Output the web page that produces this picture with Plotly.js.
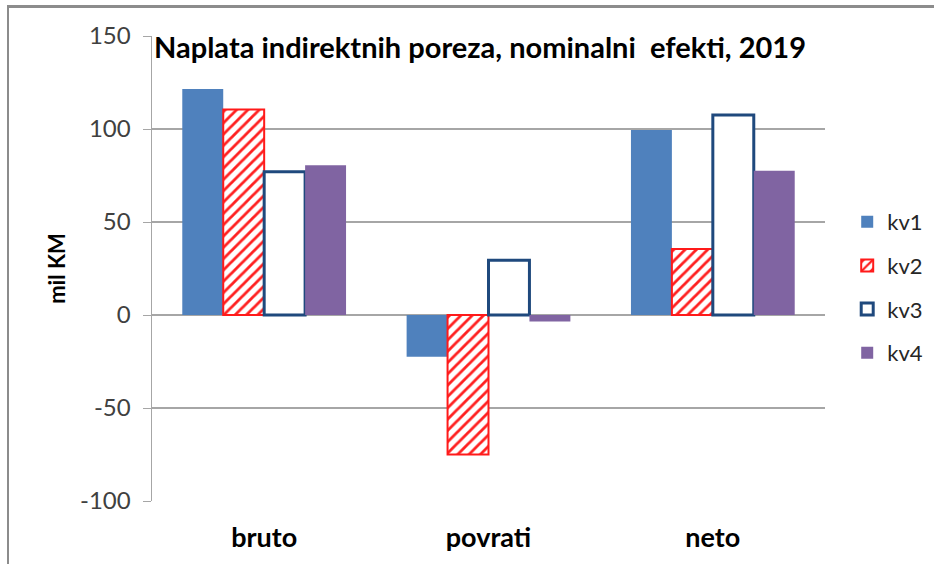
<!DOCTYPE html>
<html>
<head>
<meta charset="utf-8">
<script src="https://cdn.plot.ly/plotly-3.0.1.min.js"></script>
<style>
html,body{margin:0;padding:0;background:#fff;}
#chart{width:934px;height:564px;position:relative;}
#frame{position:absolute;left:7px;top:5px;width:940px;height:600px;border-top:3px solid #8c8c8c;border-left:2px solid #8c8c8c;pointer-events:none;}
</style>
</head>
<body>
<div id="chart"></div>
<div id="frame"></div>
<script>
const categories = ['bruto', 'povrati', 'neto'];
const seriesNames = ['kv1', 'kv2', 'kv3', 'kv4'];
const kv1 = [121.5, -22.5, 99.5];
const kv2 = [110.5, -75.0, 35.5];
const kv3 = [77.0, 29.5, 107.5];
const kv4 = [80.5, -3.5, 77.5];
const yTicks = [-100, -50, 0, 50, 100, 150];
const chartTitle = 'Naplata indirektnih poreza, nominalni  efekti, 2019';
const yTitle = 'mil KM';
const topText = 'Grafikon 6';

const FONT = 'Lato, "Open Sans", sans-serif';

const traces = [
  {name: seriesNames[0], x: categories, y: kv1, type: 'bar', legendgroup: 'a',
   marker: {color: '#4f81bd', line: {width: 0}}},
  {name: seriesNames[1], x: categories, y: kv2, type: 'bar', legendgroup: 'b',
   marker: {color: '#ffffff', line: {color: '#ff1a1a', width: 2},
            pattern: {shape: '/', fgcolor: '#ff2020', bgcolor: '#ffffff', size: 8, solidity: 0.35}}},
  {name: seriesNames[2], x: categories, y: kv3, type: 'bar', legendgroup: 'c',
   marker: {color: '#ffffff', line: {color: '#1f497d', width: 3}}},
  {name: seriesNames[3], x: categories, y: kv4, type: 'bar', legendgroup: 'd',
   marker: {color: '#8064a2', line: {width: 0}}}
];

const layout = {
  width: 934, height: 564,
  margin: {l: 152, r: 109, t: 36, b: 63, autoexpand: false},
  paper_bgcolor: '#ffffff', plot_bgcolor: '#ffffff',
  barmode: 'group', bargap: 0.27, bargroupgap: 0,
  font: {family: FONT, color: '#262626'},
  xaxis: {
    showgrid: false, zeroline: false, showline: false, ticks: '',
    tickfont: {family: FONT, size: 27, color: '#000000', weight: 'bold'},
    ticklabelstandoff: 18, automargin: false
  },
  yaxis: {
    range: [-100, 150], tickvals: yTicks, ticktext: yTicks.map(String),
    showgrid: true, gridcolor: '#a6a6a6', gridwidth: 1.5,
    zeroline: true, zerolinecolor: '#a6a6a6', zerolinewidth: 1.5,
    showline: true, linecolor: '#a6a6a6', linewidth: 1.5,
    ticks: 'outside', ticklen: 8, tickcolor: '#a6a6a6',
    tickfont: {family: FONT, size: 24, color: '#404040'},
    ticklabelstandoff: 7, automargin: false,
    title: {text: yTitle, font: {family: FONT, size: 22, color: '#000000', weight: 'bold'}, standoff: 8}
  },
  showlegend: true,
  legend: {
    x: 1.033, xanchor: 'left', y: 0.459, yanchor: 'middle',
    font: {family: FONT, size: 22, color: '#262626'},
    traceorder: 'grouped', tracegroupgap: 12,
    itemwidth: 30, bgcolor: 'rgba(0,0,0,0)'
  },
  annotations: [
    {text: chartTitle, xref: 'paper', yref: 'paper', x: 0.0, y: 0.977,
     xanchor: 'left', yanchor: 'middle', showarrow: false,
     font: {family: FONT, size: 29, color: '#000000', weight: 'bold'}},
    {text: topText, xref: 'paper', yref: 'paper', x: 0.48, y: 1.077,
     xanchor: 'center', yanchor: 'bottom', showarrow: false,
     font: {family: FONT, size: 20, color: '#000000'}}
  ]
};

Plotly.newPlot('chart', traces, layout, {displayModeBar: false, staticPlot: true});
</script>
</body>
</html>
